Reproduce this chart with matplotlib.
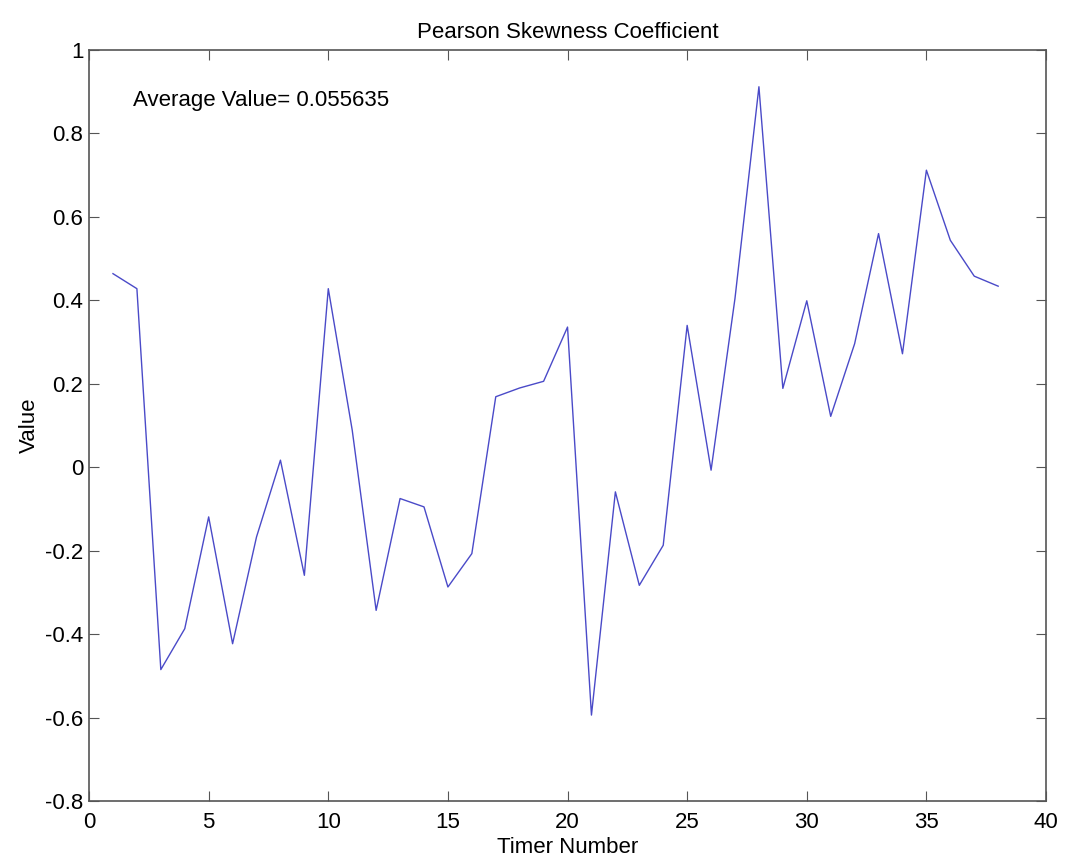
import matplotlib
matplotlib.use("Agg")
import matplotlib.pyplot as plt

timers = list(range(1, 39))
skewness = [
    0.464, 0.428, -0.485, -0.387, -0.119, -0.423, -0.167, 0.017, -0.259, 0.428,
    0.089, -0.343, -0.075, -0.095, -0.287, -0.207, 0.169, 0.190, 0.206, 0.336,
    -0.594, -0.059, -0.283, -0.187, 0.340, -0.007, 0.405, 0.912, 0.189, 0.399,
    0.122, 0.296, 0.560, 0.272, 0.712, 0.544, 0.458, 0.434,
]
x_ticks = [0, 5, 10, 15, 20, 25, 30, 35, 40]
y_ticks = [-0.8, -0.6, -0.4, -0.2, 0, 0.2, 0.4, 0.6, 0.8, 1]
y_labels = ["-0.8", "-0.6", "-0.4", "-0.2", "0", "0.2", "0.4", "0.6", "0.8", "1"]

plt.rcParams["font.family"] = ["Liberation Sans", "DejaVu Sans"]
plt.rcParams["font.size"] = 16

fig = plt.figure(figsize=(10.69, 8.58), dpi=100)
ax = fig.add_axes([0.0833, 0.0664, 0.8952, 0.8753])

ax.plot(timers, skewness, color="#4a4ac8", linewidth=1.0)

ax.set_xlim(0, 40)
ax.set_ylim(-0.8, 1)
ax.set_xticks(x_ticks)
ax.set_yticks(y_ticks)
ax.set_yticklabels(y_labels)
ax.tick_params(direction="in", top=True, right=True, length=7, color="#555555",
               labelsize=16)
ax.tick_params(axis="x", pad=8)
ax.tick_params(axis="y", pad=4)
for spine in ax.spines.values():
    spine.set_color("#555555")
    spine.set_linewidth(1.2)

ax.set_title("Pearson Skewness Coefficient", fontsize=16, pad=9)
ax.set_xlabel("Timer Number", fontsize=16, labelpad=3)
ax.set_ylabel("Value", fontsize=16, labelpad=4)
ax.text(1.84, 0.88, "Average Value= 0.055635", fontsize=16, va="center", ha="left")

fig.savefig("out.png", dpi=100)
